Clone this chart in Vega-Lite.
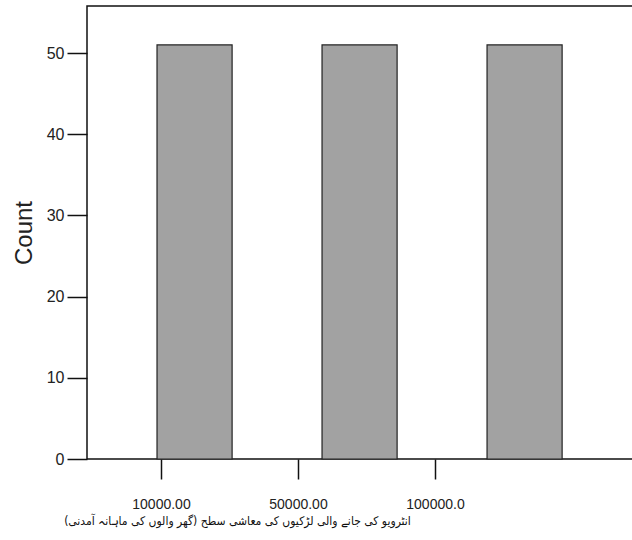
{
  "$schema": "https://vega.github.io/schema/vega-lite/v6.json",
  "autosize": "none",
  "width": 548,
  "height": 453,
  "padding": {"left": 87, "top": 6, "right": 0, "bottom": 81},
  "background": "white",
  "config": {
    "view": {"stroke": "#111", "strokeWidth": 1.5},
    "font": "Liberation Sans"
  },
  "data": {"values": [
    {"income": "10000.00", "count": 51},
    {"income": "50000.00", "count": 51},
    {"income": "100000.0", "count": 51}
  ]},
  "layer": [
    {
      "mark": {"type": "bar", "fill": "#a2a2a2", "stroke": "#222", "strokeWidth": 1.2},
      "encoding": {
        "x": {"field": "income", "type": "ordinal", "sort": null,
          "scale": {"type": "band", "paddingInner": 0.545, "paddingOuter": 0.433, "align": 0.49},
          "axis": null},
        "y": {"field": "count", "type": "quantitative",
          "scale": {"domain": [0, 55.8], "nice": false},
          "axis": {"values": [0, 10, 20, 30, 40, 50], "grid": false, "domain": false,
            "tickSize": 20, "tickColor": "#111", "tickWidth": 1.5,
            "labelFontSize": 16, "labelColor": "#222", "labelPadding": 3,
            "title": "Count", "titleFontSize": 24, "titleFontWeight": "normal", "titleColor": "#222", "titlePadding": 10}}
      }
    },
    {
      "mark": {"type": "point", "opacity": 0},
      "encoding": {
        "x": {"field": "income", "type": "ordinal", "sort": null,
          "scale": {"type": "point", "padding": 1.022, "align": 0.27},
          "axis": {"domain": false, "grid": false, "tickSize": 20, "tickColor": "#111", "tickWidth": 1.5,
            "labelAngle": 0, "labelFontSize": 14, "labelColor": "#222", "labelPadding": 18,
            "title": "انٹرویو کی جانے والی لڑکیوں کی معاشی سطح (گھر والوں کی ماہانہ آمدنی)",
            "titleFont": "DejaVu Sans Condensed", "titleFontSize": 12, "titleFontWeight": "normal", "titleColor": "#111",
            "titleX": 150, "titleAlign": "center", "titlePadding": 4}},
        "y": {"field": "count", "type": "quantitative",
          "scale": {"domain": [0, 55.8], "nice": false},
          "axis": {"values": [0, 10, 20, 30, 40, 50], "grid": false, "domain": false,
            "tickSize": 20, "tickColor": "#111", "tickWidth": 1.5,
            "labelFontSize": 16, "labelColor": "#222", "labelPadding": 3,
            "title": "Count", "titleFontSize": 24, "titleFontWeight": "normal", "titleColor": "#222", "titlePadding": 10}}
      }
    }
  ],
  "resolve": {"scale": {"x": "independent"}}
}
